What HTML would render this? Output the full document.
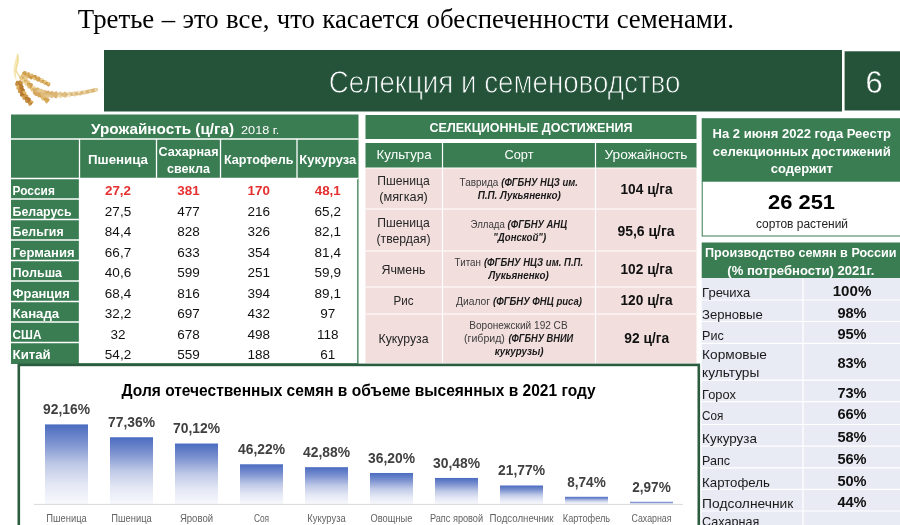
<!DOCTYPE html>
<html lang="ru"><head><meta charset="utf-8"><title>Селекция и семеноводство</title>
<style>
html,body{margin:0;padding:0;background:#fff;}
body{width:900px;height:525px;overflow:hidden;position:relative;font-family:"Liberation Sans", "DejaVu Sans", sans-serif;}
p.lead{position:absolute;left:77.8px;top:4.4px;margin:0;font:26.8px/30px "Liberation Serif", "DejaVu Serif", serif;color:#000;white-space:nowrap;word-spacing:0.68px;}
svg{position:absolute;left:0;top:0;font-family:"Liberation Sans", "DejaVu Sans", sans-serif;}
</style></head><body>
<p class="lead">Третье – это все, что касается обеспеченности семенами.</p>
<svg width="900" height="525" viewBox="0 0 900 525">
<defs>
<linearGradient id="bar" x1="0" y1="0" x2="0" y2="1"><stop offset="0" stop-color="#4a6bc0"/><stop offset="0.25" stop-color="#8095d1"/><stop offset="0.5" stop-color="#bfc9e7"/><stop offset="0.75" stop-color="#e4e8f5"/><stop offset="1" stop-color="#f8f9fd"/></linearGradient>
<filter id="bl" x="-10%" y="-10%" width="120%" height="120%"><feGaussianBlur stdDeviation="0.45"/></filter>
</defs>
<rect x="104" y="50" width="738" height="61.5" fill="#24533a" />
<rect x="844.6" y="51.3" width="56" height="59.2" fill="#24533a" />
<text x="328.8" y="92.6" font-size="30.6" fill="#fff" textLength="351.5" lengthAdjust="spacingAndGlyphs" stroke="#24533a" stroke-width="0.9">Селекция и семеноводство</text>
<text x="865.6" y="92.9" font-size="30.8" fill="#fff" stroke="#24533a" stroke-width="0.35">6</text>
<g filter="url(#bl)">
<path d="M17.2 52.4 C21.2 57 18.4 63.5 17 69 C15.8 74 15.6 78 17.4 82.5 C14.2 78 12.8 72 14 66 C15 60 16.6 57 17.2 52.4Z" fill="#f6e9b8"/>
<path d="M17.3 55 C19 60 16.6 66 15.6 72" stroke="#efd88e" stroke-width="0.9" fill="none"/>
<path d="M16 70 C18 76 21 79 25 82" stroke="#f0dea6" stroke-width="1.5" fill="none"/>
<path d="M24 74.2 Q36 77 48.5 84.3" stroke="#cd9a48" stroke-width="3.47" fill="none" stroke-linecap="round"/>
<ellipse cx="24.38" cy="72.58" rx="2.29" ry="1.33" fill="#d0a051" transform="rotate(-14.9 24.38 72.58)"/>
<ellipse cx="23.62" cy="75.82" rx="2.29" ry="1.33" fill="#dbb369" transform="rotate(41.1 23.62 75.82)"/>
<ellipse cx="27.88" cy="73.56" rx="2.20" ry="1.28" fill="#d5aa5d" transform="rotate(-12.1 27.88 73.56)"/>
<ellipse cx="27.00" cy="76.62" rx="2.20" ry="1.28" fill="#deb870" transform="rotate(43.9 27.00 76.62)"/>
<ellipse cx="31.38" cy="74.72" rx="2.10" ry="1.22" fill="#e0bb75" transform="rotate(-9.4 31.38 74.72)"/>
<ellipse cx="30.41" cy="77.61" rx="2.10" ry="1.22" fill="#cd9948" transform="rotate(46.6 30.41 77.61)"/>
<ellipse cx="34.90" cy="76.07" rx="2.00" ry="1.16" fill="#cc9947" transform="rotate(-6.8 34.90 76.07)"/>
<ellipse cx="33.85" cy="78.78" rx="2.00" ry="1.16" fill="#e7c988" transform="rotate(49.2 33.85 78.78)"/>
<ellipse cx="38.43" cy="77.60" rx="1.90" ry="1.11" fill="#d6aa5d" transform="rotate(-4.4 38.43 77.60)"/>
<ellipse cx="37.32" cy="80.14" rx="1.90" ry="1.11" fill="#d5a85b" transform="rotate(51.6 37.32 80.14)"/>
<ellipse cx="41.97" cy="79.32" rx="1.81" ry="1.05" fill="#edd599" transform="rotate(-2.0 41.97 79.32)"/>
<ellipse cx="40.82" cy="81.68" rx="1.81" ry="1.05" fill="#ddb870" transform="rotate(54.0 40.82 81.68)"/>
<ellipse cx="45.52" cy="81.21" rx="1.71" ry="0.99" fill="#eace90" transform="rotate(0.2 45.52 81.21)"/>
<ellipse cx="44.35" cy="83.40" rx="1.71" ry="0.99" fill="#dfba74" transform="rotate(56.2 44.35 83.40)"/>
<ellipse cx="49.09" cy="83.29" rx="1.61" ry="0.94" fill="#e5c583" transform="rotate(2.3 49.09 83.29)"/>
<ellipse cx="47.91" cy="85.31" rx="1.61" ry="0.94" fill="#d7ab5d" transform="rotate(58.3 47.91 85.31)"/>
<path d="M22 77 Q31 88 47 100.5" stroke="#d1a04d" stroke-width="3.85" fill="none" stroke-linecap="round"/>
<ellipse cx="23.32" cy="75.92" rx="2.36" ry="1.37" fill="#e3c07c" transform="rotate(22.7 23.32 75.92)"/>
<ellipse cx="20.68" cy="78.08" rx="2.36" ry="1.37" fill="#e7c786" transform="rotate(78.7 20.68 78.08)"/>
<ellipse cx="25.62" cy="78.66" rx="2.31" ry="1.34" fill="#e9cb8b" transform="rotate(20.6 25.62 78.66)"/>
<ellipse cx="23.10" cy="80.88" rx="2.31" ry="1.34" fill="#eed398" transform="rotate(76.6 23.10 80.88)"/>
<ellipse cx="28.13" cy="81.47" rx="2.26" ry="1.31" fill="#e7c888" transform="rotate(18.6 28.13 81.47)"/>
<ellipse cx="25.74" cy="83.72" rx="2.26" ry="1.31" fill="#edd397" transform="rotate(74.6 25.74 83.72)"/>
<ellipse cx="30.87" cy="84.32" rx="2.22" ry="1.29" fill="#d0a04d" transform="rotate(16.8 30.87 84.32)"/>
<ellipse cx="28.60" cy="86.60" rx="2.22" ry="1.29" fill="#deb972" transform="rotate(72.8 28.60 86.60)"/>
<ellipse cx="33.83" cy="87.23" rx="2.17" ry="1.26" fill="#efd59c" transform="rotate(15.2 33.83 87.23)"/>
<ellipse cx="31.67" cy="89.52" rx="2.17" ry="1.26" fill="#e5c483" transform="rotate(71.2 31.67 89.52)"/>
<ellipse cx="37.01" cy="90.19" rx="2.12" ry="1.23" fill="#edd499" transform="rotate(13.7 37.01 90.19)"/>
<ellipse cx="34.96" cy="92.49" rx="2.12" ry="1.23" fill="#d5a757" transform="rotate(69.7 34.96 92.49)"/>
<ellipse cx="40.41" cy="93.20" rx="2.08" ry="1.21" fill="#e0bc76" transform="rotate(12.4 40.41 93.20)"/>
<ellipse cx="38.46" cy="95.49" rx="2.08" ry="1.21" fill="#d9af63" transform="rotate(68.4 38.46 95.49)"/>
<ellipse cx="44.04" cy="96.26" rx="2.03" ry="1.18" fill="#e3c17d" transform="rotate(11.1 44.04 96.26)"/>
<ellipse cx="42.18" cy="98.54" rx="2.03" ry="1.18" fill="#e4c380" transform="rotate(67.1 42.18 98.54)"/>
<ellipse cx="47.89" cy="99.37" rx="1.98" ry="1.15" fill="#d4a453" transform="rotate(10.0 47.89 99.37)"/>
<ellipse cx="46.11" cy="101.63" rx="1.98" ry="1.15" fill="#dab064" transform="rotate(66.0 46.11 101.63)"/>
<path d="M36 91.5 Q58 99 96 89.8" stroke="#dcb878" stroke-width="3.85" fill="none" stroke-linecap="round"/>
<ellipse cx="36.71" cy="89.41" rx="3.04" ry="1.76" fill="#dbb26c" transform="rotate(-9.2 36.71 89.41)"/>
<ellipse cx="35.29" cy="93.59" rx="3.04" ry="1.76" fill="#d6a85e" transform="rotate(46.8 35.29 93.59)"/>
<ellipse cx="40.02" cy="90.52" rx="2.90" ry="1.69" fill="#e5c68b" transform="rotate(-13.0 40.02 90.52)"/>
<ellipse cx="38.93" cy="94.59" rx="2.90" ry="1.69" fill="#d5a65c" transform="rotate(43.0 38.93 94.59)"/>
<ellipse cx="43.55" cy="91.44" rx="2.77" ry="1.61" fill="#e4c387" transform="rotate(-16.6 43.55 91.44)"/>
<ellipse cx="42.75" cy="95.38" rx="2.77" ry="1.61" fill="#dfba79" transform="rotate(39.4 42.75 95.38)"/>
<ellipse cx="47.27" cy="92.18" rx="2.64" ry="1.53" fill="#d7ad67" transform="rotate(-19.9 47.27 92.18)"/>
<ellipse cx="46.74" cy="95.97" rx="2.64" ry="1.53" fill="#e3c48a" transform="rotate(36.1 46.74 95.97)"/>
<ellipse cx="51.21" cy="92.72" rx="2.50" ry="1.45" fill="#d8af6b" transform="rotate(-23.0 51.21 92.72)"/>
<ellipse cx="50.89" cy="96.34" rx="2.50" ry="1.45" fill="#e3c389" transform="rotate(33.0 50.89 96.34)"/>
<ellipse cx="55.36" cy="93.08" rx="2.37" ry="1.38" fill="#dab574" transform="rotate(-25.8 55.36 93.08)"/>
<ellipse cx="55.22" cy="96.52" rx="2.37" ry="1.38" fill="#dbb675" transform="rotate(30.2 55.22 96.52)"/>
<ellipse cx="59.70" cy="93.24" rx="2.24" ry="1.30" fill="#e5c993" transform="rotate(-28.4 59.70 93.24)"/>
<ellipse cx="59.73" cy="96.49" rx="2.24" ry="1.30" fill="#eedbaf" transform="rotate(27.6 59.73 96.49)"/>
<ellipse cx="64.26" cy="93.21" rx="2.10" ry="1.22" fill="#debe82" transform="rotate(-30.8 64.26 93.21)"/>
<ellipse cx="64.41" cy="96.26" rx="2.10" ry="1.22" fill="#e1c289" transform="rotate(25.2 64.41 96.26)"/>
<ellipse cx="69.01" cy="92.98" rx="1.97" ry="1.14" fill="#ebd7aa" transform="rotate(-33.0 69.01 92.98)"/>
<ellipse cx="69.26" cy="95.83" rx="1.97" ry="1.14" fill="#f2e4c0" transform="rotate(23.0 69.26 95.83)"/>
<ellipse cx="73.97" cy="92.56" rx="1.84" ry="1.07" fill="#ebd7ac" transform="rotate(-35.0 73.97 92.56)"/>
<ellipse cx="74.29" cy="95.20" rx="1.84" ry="1.07" fill="#e7d0a0" transform="rotate(21.0 74.29 95.20)"/>
<ellipse cx="79.12" cy="91.94" rx="1.70" ry="0.99" fill="#f5e9ca" transform="rotate(-36.9 79.12 91.94)"/>
<ellipse cx="79.50" cy="94.38" rx="1.70" ry="0.99" fill="#e1c58e" transform="rotate(19.1 79.50 94.38)"/>
<ellipse cx="84.48" cy="91.12" rx="1.57" ry="0.91" fill="#f3e6c7" transform="rotate(-38.6 84.48 91.12)"/>
<ellipse cx="84.90" cy="93.36" rx="1.57" ry="0.91" fill="#e7d2a3" transform="rotate(17.4 84.90 93.36)"/>
<ellipse cx="90.03" cy="90.10" rx="1.44" ry="0.83" fill="#e6d0a0" transform="rotate(-40.1 90.03 90.10)"/>
<ellipse cx="90.47" cy="92.14" rx="1.44" ry="0.83" fill="#e6d09f" transform="rotate(15.9 90.47 92.14)"/>
<ellipse cx="95.78" cy="88.88" rx="1.30" ry="0.76" fill="#ebd9af" transform="rotate(-41.6 95.78 88.88)"/>
<ellipse cx="96.22" cy="90.72" rx="1.30" ry="0.76" fill="#f4eacd" transform="rotate(14.4 96.22 90.72)"/>
<path d="M18.8 83 Q21 94 30.5 102.8" stroke="#b5762b" stroke-width="4.29" fill="none" stroke-linecap="round"/>
<ellipse cx="20.74" cy="82.61" rx="2.73" ry="1.58" fill="#c89143" transform="rotate(50.7 20.74 82.61)"/>
<ellipse cx="16.86" cy="83.39" rx="2.73" ry="1.58" fill="#c38b3e" transform="rotate(106.7 16.86 83.39)"/>
<ellipse cx="21.55" cy="86.02" rx="2.62" ry="1.52" fill="#b97c31" transform="rotate(44.2 21.55 86.02)"/>
<ellipse cx="17.92" cy="87.19" rx="2.62" ry="1.52" fill="#dbad5c" transform="rotate(100.2 17.92 87.19)"/>
<ellipse cx="22.75" cy="89.34" rx="2.52" ry="1.46" fill="#b4742a" transform="rotate(37.7 22.75 89.34)"/>
<ellipse cx="19.41" cy="90.84" rx="2.52" ry="1.46" fill="#cb9648" transform="rotate(93.7 19.41 90.84)"/>
<ellipse cx="24.34" cy="92.56" rx="2.42" ry="1.40" fill="#dfb262" transform="rotate(31.4 24.34 92.56)"/>
<ellipse cx="21.31" cy="94.34" rx="2.42" ry="1.40" fill="#b87b30" transform="rotate(87.4 21.31 94.34)"/>
<ellipse cx="26.33" cy="95.69" rx="2.31" ry="1.34" fill="#cf9c4e" transform="rotate(25.5 26.33 95.69)"/>
<ellipse cx="23.63" cy="97.69" rx="2.31" ry="1.34" fill="#d2a052" transform="rotate(81.5 23.63 97.69)"/>
<ellipse cx="28.73" cy="98.73" rx="2.21" ry="1.28" fill="#b87a2f" transform="rotate(19.9 28.73 98.73)"/>
<ellipse cx="26.35" cy="100.88" rx="2.21" ry="1.28" fill="#c89144" transform="rotate(75.9 26.35 100.88)"/>
<ellipse cx="31.54" cy="101.68" rx="2.11" ry="1.22" fill="#d8a95b" transform="rotate(14.8 31.54 101.68)"/>
<ellipse cx="29.46" cy="103.92" rx="2.11" ry="1.22" fill="#cd984a" transform="rotate(70.8 29.46 103.92)"/>
</g>
<rect x="11" y="114.5" width="347.5" height="249.5" fill="#3a7d52" />
<rect x="79.5" y="178.5" width="277.7" height="184.7" fill="#fff" />
<line x1="11" y1="139" x2="358.5" y2="139" stroke="#fff" stroke-width="1.3"/>
<line x1="11" y1="178.5" x2="358.5" y2="178.5" stroke="#fff" stroke-width="1.3"/>
<line x1="79.5" y1="139" x2="79.5" y2="178.5" stroke="#fff" stroke-width="1.3"/>
<line x1="156.5" y1="139" x2="156.5" y2="178.5" stroke="#fff" stroke-width="1.3"/>
<line x1="220.5" y1="139" x2="220.5" y2="178.5" stroke="#fff" stroke-width="1.3"/>
<line x1="297" y1="139" x2="297" y2="178.5" stroke="#fff" stroke-width="1.3"/>
<line x1="79.5" y1="178.5" x2="79.5" y2="363" stroke="#fff" stroke-width="1.3"/>
<line x1="11" y1="199" x2="79.5" y2="199" stroke="#fff" stroke-width="1.3"/>
<line x1="11" y1="219.5" x2="79.5" y2="219.5" stroke="#fff" stroke-width="1.3"/>
<line x1="11" y1="240" x2="79.5" y2="240" stroke="#fff" stroke-width="1.3"/>
<line x1="11" y1="260.5" x2="79.5" y2="260.5" stroke="#fff" stroke-width="1.3"/>
<line x1="11" y1="281" x2="79.5" y2="281" stroke="#fff" stroke-width="1.3"/>
<line x1="11" y1="301.5" x2="79.5" y2="301.5" stroke="#fff" stroke-width="1.3"/>
<line x1="11" y1="322" x2="79.5" y2="322" stroke="#fff" stroke-width="1.3"/>
<line x1="11" y1="342.5" x2="79.5" y2="342.5" stroke="#fff" stroke-width="1.3"/>
<text x="91" y="133.6" font-size="14.4" fill="#fff" font-weight="700" textLength="143" lengthAdjust="spacingAndGlyphs">Урожайность (ц/га)</text>
<text x="241" y="133.6" font-size="11.6" fill="#fff" textLength="38.4" lengthAdjust="spacingAndGlyphs">2018 г.</text>
<text x="118" y="164.4" font-size="13" fill="#fff" font-weight="700" text-anchor="middle" textLength="60" lengthAdjust="spacingAndGlyphs">Пшеница</text>
<text x="188.5" y="155.6" font-size="13" fill="#fff" font-weight="700" text-anchor="middle" textLength="60" lengthAdjust="spacingAndGlyphs">Сахарная</text>
<text x="188.5" y="173.4" font-size="13" fill="#fff" font-weight="700" text-anchor="middle" textLength="43" lengthAdjust="spacingAndGlyphs">свекла</text>
<text x="258.75" y="164.4" font-size="13" fill="#fff" font-weight="700" text-anchor="middle" textLength="69.6" lengthAdjust="spacingAndGlyphs">Картофель</text>
<text x="327.75" y="164.4" font-size="13" fill="#fff" font-weight="700" text-anchor="middle" textLength="57" lengthAdjust="spacingAndGlyphs">Кукуруза</text>
<text x="12.6" y="195" font-size="13.4" fill="#fff" font-weight="700" textLength="42.3" lengthAdjust="spacingAndGlyphs">Россия</text>
<text x="118" y="195" font-size="13.4" fill="#e62f2f" font-weight="700" text-anchor="middle">27,2</text>
<text x="188.5" y="195" font-size="13.4" fill="#e62f2f" font-weight="700" text-anchor="middle">381</text>
<text x="258.75" y="195" font-size="13.4" fill="#e62f2f" font-weight="700" text-anchor="middle">170</text>
<text x="327.75" y="195" font-size="13.4" fill="#e62f2f" font-weight="700" text-anchor="middle">48,1</text>
<text x="12.6" y="215.5" font-size="13.4" fill="#fff" font-weight="700" textLength="59" lengthAdjust="spacingAndGlyphs">Беларусь</text>
<text x="118" y="215.5" font-size="13.5" fill="#111" text-anchor="middle">27,5</text>
<text x="188.5" y="215.5" font-size="13.5" fill="#111" text-anchor="middle">477</text>
<text x="258.75" y="215.5" font-size="13.5" fill="#111" text-anchor="middle">216</text>
<text x="327.75" y="215.5" font-size="13.5" fill="#111" text-anchor="middle">65,2</text>
<text x="12.6" y="236" font-size="13.4" fill="#fff" font-weight="700" textLength="51" lengthAdjust="spacingAndGlyphs">Бельгия</text>
<text x="118" y="236" font-size="13.5" fill="#111" text-anchor="middle">84,4</text>
<text x="188.5" y="236" font-size="13.5" fill="#111" text-anchor="middle">828</text>
<text x="258.75" y="236" font-size="13.5" fill="#111" text-anchor="middle">326</text>
<text x="327.75" y="236" font-size="13.5" fill="#111" text-anchor="middle">82,1</text>
<text x="12.6" y="256.5" font-size="13.4" fill="#fff" font-weight="700" textLength="61.9" lengthAdjust="spacingAndGlyphs">Германия</text>
<text x="118" y="256.5" font-size="13.5" fill="#111" text-anchor="middle">66,7</text>
<text x="188.5" y="256.5" font-size="13.5" fill="#111" text-anchor="middle">633</text>
<text x="258.75" y="256.5" font-size="13.5" fill="#111" text-anchor="middle">354</text>
<text x="327.75" y="256.5" font-size="13.5" fill="#111" text-anchor="middle">81,4</text>
<text x="12.6" y="277" font-size="13.4" fill="#fff" font-weight="700" textLength="49.5" lengthAdjust="spacingAndGlyphs">Польша</text>
<text x="118" y="277" font-size="13.5" fill="#111" text-anchor="middle">40,6</text>
<text x="188.5" y="277" font-size="13.5" fill="#111" text-anchor="middle">599</text>
<text x="258.75" y="277" font-size="13.5" fill="#111" text-anchor="middle">251</text>
<text x="327.75" y="277" font-size="13.5" fill="#111" text-anchor="middle">59,9</text>
<text x="12.6" y="297.5" font-size="13.4" fill="#fff" font-weight="700" textLength="57.1" lengthAdjust="spacingAndGlyphs">Франция</text>
<text x="118" y="297.5" font-size="13.5" fill="#111" text-anchor="middle">68,4</text>
<text x="188.5" y="297.5" font-size="13.5" fill="#111" text-anchor="middle">816</text>
<text x="258.75" y="297.5" font-size="13.5" fill="#111" text-anchor="middle">394</text>
<text x="327.75" y="297.5" font-size="13.5" fill="#111" text-anchor="middle">89,1</text>
<text x="12.6" y="318" font-size="13.4" fill="#fff" font-weight="700" textLength="46.6" lengthAdjust="spacingAndGlyphs">Канада</text>
<text x="118" y="318" font-size="13.5" fill="#111" text-anchor="middle">32,2</text>
<text x="188.5" y="318" font-size="13.5" fill="#111" text-anchor="middle">697</text>
<text x="258.75" y="318" font-size="13.5" fill="#111" text-anchor="middle">432</text>
<text x="327.75" y="318" font-size="13.5" fill="#111" text-anchor="middle">97</text>
<text x="12.6" y="338.5" font-size="13.4" fill="#fff" font-weight="700" textLength="28.9" lengthAdjust="spacingAndGlyphs">США</text>
<text x="118" y="338.5" font-size="13.5" fill="#111" text-anchor="middle">32</text>
<text x="188.5" y="338.5" font-size="13.5" fill="#111" text-anchor="middle">678</text>
<text x="258.75" y="338.5" font-size="13.5" fill="#111" text-anchor="middle">498</text>
<text x="327.75" y="338.5" font-size="13.5" fill="#111" text-anchor="middle">118</text>
<text x="12.6" y="359" font-size="13.4" fill="#fff" font-weight="700" textLength="38.1" lengthAdjust="spacingAndGlyphs">Китай</text>
<text x="118" y="359" font-size="13.5" fill="#111" text-anchor="middle">54,2</text>
<text x="188.5" y="359" font-size="13.5" fill="#111" text-anchor="middle">559</text>
<text x="258.75" y="359" font-size="13.5" fill="#111" text-anchor="middle">188</text>
<text x="327.75" y="359" font-size="13.5" fill="#111" text-anchor="middle">61</text>
<rect x="365.5" y="115" width="331" height="24" fill="#3a7d52" />
<rect x="365.5" y="143" width="331" height="25" fill="#3a7d52" />
<rect x="365.5" y="168" width="331" height="195" fill="#f1dedd" />
<line x1="442.5" y1="143" x2="442.5" y2="363" stroke="#fff" stroke-width="1.2"/>
<line x1="595.5" y1="143" x2="595.5" y2="363" stroke="#fff" stroke-width="1.2"/>
<line x1="365.5" y1="168" x2="696.5" y2="168" stroke="#fff" stroke-width="1.2"/>
<line x1="365.5" y1="209" x2="696.5" y2="209" stroke="#fff" stroke-width="1.2"/>
<line x1="365.5" y1="251" x2="696.5" y2="251" stroke="#fff" stroke-width="1.2"/>
<line x1="365.5" y1="287" x2="696.5" y2="287" stroke="#fff" stroke-width="1.2"/>
<line x1="365.5" y1="314" x2="696.5" y2="314" stroke="#fff" stroke-width="1.2"/>
<text x="531" y="131.8" font-size="12.2" fill="#fff" font-weight="700" text-anchor="middle" textLength="203" lengthAdjust="spacingAndGlyphs">СЕЛЕКЦИОННЫЕ ДОСТИЖЕНИЯ</text>
<text x="404" y="159" font-size="13.4" fill="#fff" text-anchor="middle" textLength="55" lengthAdjust="spacingAndGlyphs">Культура</text>
<text x="519" y="159" font-size="13.4" fill="#fff" text-anchor="middle" textLength="29" lengthAdjust="spacingAndGlyphs">Сорт</text>
<text x="646" y="159" font-size="13.4" fill="#fff" text-anchor="middle" textLength="83" lengthAdjust="spacingAndGlyphs">Урожайность</text>
<text x="403.5" y="185" font-size="13.2" fill="#262626" text-anchor="middle" textLength="52.5" lengthAdjust="spacingAndGlyphs">Пшеница</text>
<text x="403.5" y="201.2" font-size="13.2" fill="#262626" text-anchor="middle" textLength="48.5" lengthAdjust="spacingAndGlyphs">(мягкая)</text>
<text x="403.5" y="227" font-size="13.2" fill="#262626" text-anchor="middle" textLength="52.5" lengthAdjust="spacingAndGlyphs">Пшеница</text>
<text x="403.5" y="243.2" font-size="13.2" fill="#262626" text-anchor="middle" textLength="54" lengthAdjust="spacingAndGlyphs">(твердая)</text>
<text x="403.5" y="274" font-size="13.2" fill="#262626" text-anchor="middle" textLength="44" lengthAdjust="spacingAndGlyphs">Ячмень</text>
<text x="403.5" y="305" font-size="13.2" fill="#262626" text-anchor="middle" textLength="20" lengthAdjust="spacingAndGlyphs">Рис</text>
<text x="403.5" y="343" font-size="13.2" fill="#262626" text-anchor="middle" textLength="50" lengthAdjust="spacingAndGlyphs">Кукуруза</text>
<text x="459.6" y="185.8" font-size="11" fill="#3c3c3c" textLength="38.7" lengthAdjust="spacingAndGlyphs">Таврида</text>
<text x="501.3" y="185.8" font-size="11" fill="#1a1a1a" font-weight="700" font-style="italic" textLength="76.5" lengthAdjust="spacingAndGlyphs">(ФГБНУ НЦЗ им.</text>
<text x="477.7" y="198.8" font-size="11" fill="#1a1a1a" font-weight="700" font-style="italic" textLength="83.2" lengthAdjust="spacingAndGlyphs">П.П. Лукьяненко)</text>
<text x="470.6" y="227.6" font-size="11" fill="#3c3c3c" textLength="34.3" lengthAdjust="spacingAndGlyphs">Эллада</text>
<text x="507.6" y="227.6" font-size="11" fill="#1a1a1a" font-weight="700" font-style="italic" textLength="59.5" lengthAdjust="spacingAndGlyphs">(ФГБНУ АНЦ</text>
<text x="493.3" y="240.6" font-size="11" fill="#1a1a1a" font-weight="700" font-style="italic" textLength="52.8" lengthAdjust="spacingAndGlyphs">&quot;Донской&quot;)</text>
<text x="454.6" y="266" font-size="11" fill="#3c3c3c" textLength="26.3" lengthAdjust="spacingAndGlyphs">Титан</text>
<text x="483.9" y="266" font-size="11" fill="#1a1a1a" font-weight="700" font-style="italic" textLength="99.2" lengthAdjust="spacingAndGlyphs">(ФГБНУ НЦЗ им. П.П.</text>
<text x="488.4" y="278.8" font-size="11" fill="#1a1a1a" font-weight="700" font-style="italic" textLength="60.4" lengthAdjust="spacingAndGlyphs">Лукьяненко)</text>
<text x="456" y="304.6" font-size="11" fill="#3c3c3c" textLength="34.1" lengthAdjust="spacingAndGlyphs">Диалог</text>
<text x="493" y="304.6" font-size="11" fill="#1a1a1a" font-weight="700" font-style="italic" textLength="88.9" lengthAdjust="spacingAndGlyphs">(ФГБНУ ФНЦ риса)</text>
<text x="469.3" y="328.6" font-size="11" fill="#3c3c3c" textLength="98.3" lengthAdjust="spacingAndGlyphs">Воронежский 192 СВ</text>
<text x="464" y="342" font-size="11" fill="#3c3c3c" textLength="40.9" lengthAdjust="spacingAndGlyphs">(гибрид)</text>
<text x="508.4" y="342" font-size="11" fill="#1a1a1a" font-weight="700" font-style="italic" textLength="64.9" lengthAdjust="spacingAndGlyphs">(ФГБНУ ВНИИ</text>
<text x="494.8" y="354.8" font-size="11" fill="#1a1a1a" font-weight="700" font-style="italic" textLength="48.8" lengthAdjust="spacingAndGlyphs">кукурузы)</text>
<text x="620.5" y="193.6" font-size="14" fill="#111" font-weight="700" textLength="52.2" lengthAdjust="spacingAndGlyphs">104 ц/га</text>
<text x="617.4" y="235.5" font-size="14" fill="#111" font-weight="700" textLength="57.2" lengthAdjust="spacingAndGlyphs">95,6 ц/га</text>
<text x="620.5" y="273.6" font-size="14" fill="#111" font-weight="700" textLength="52.2" lengthAdjust="spacingAndGlyphs">102 ц/га</text>
<text x="620.5" y="304.8" font-size="14" fill="#111" font-weight="700" textLength="52.2" lengthAdjust="spacingAndGlyphs">120 ц/га</text>
<text x="624.3" y="343.3" font-size="14" fill="#111" font-weight="700" textLength="44.9" lengthAdjust="spacingAndGlyphs">92 ц/га</text>
<rect x="701.7" y="118.2" width="198.3" height="63" fill="#3a7d52" />
<rect x="702.2" y="181.2" width="198.3" height="54.8" fill="#fff" stroke="#3a7d52" stroke-width="1"/>
<text x="801.8" y="137.5" font-size="13" fill="#fff" font-weight="700" text-anchor="middle" textLength="178.5" lengthAdjust="spacingAndGlyphs">На 2 июня 2022 года Реестр</text>
<text x="801.8" y="155.5" font-size="13" fill="#fff" font-weight="700" text-anchor="middle" textLength="178" lengthAdjust="spacingAndGlyphs">селекционных достижений</text>
<text x="801.8" y="173.2" font-size="13" fill="#fff" font-weight="700" text-anchor="middle" textLength="62" lengthAdjust="spacingAndGlyphs">содержит</text>
<text x="801.5" y="208.7" font-size="20.5" fill="#000" font-weight="700" text-anchor="middle" textLength="67" lengthAdjust="spacingAndGlyphs">26 251</text>
<text x="802" y="228.3" font-size="12" fill="#222" text-anchor="middle" textLength="92" lengthAdjust="spacingAndGlyphs">сортов растений</text>
<rect x="701.7" y="242.5" width="198.3" height="35.5" fill="#3a7d52" />
<text x="800.8" y="257" font-size="13.6" fill="#fff" font-weight="700" text-anchor="middle" textLength="191.5" lengthAdjust="spacingAndGlyphs">Производство семян в России</text>
<text x="800.8" y="274.5" font-size="13.6" fill="#fff" font-weight="700" text-anchor="middle" textLength="147" lengthAdjust="spacingAndGlyphs">(% потребности) 2021г.</text>
<rect x="701.7" y="278" width="198.3" height="250" fill="#e9ebf4" />
<line x1="701.7" y1="300" x2="900" y2="300" stroke="#fff" stroke-width="1.2"/>
<line x1="701.7" y1="321.5" x2="900" y2="321.5" stroke="#fff" stroke-width="1.2"/>
<line x1="701.7" y1="343.3" x2="900" y2="343.3" stroke="#fff" stroke-width="1.2"/>
<line x1="701.7" y1="380.2" x2="900" y2="380.2" stroke="#fff" stroke-width="1.2"/>
<line x1="701.7" y1="401.7" x2="900" y2="401.7" stroke="#fff" stroke-width="1.2"/>
<line x1="701.7" y1="424.5" x2="900" y2="424.5" stroke="#fff" stroke-width="1.2"/>
<line x1="701.7" y1="446.2" x2="900" y2="446.2" stroke="#fff" stroke-width="1.2"/>
<line x1="701.7" y1="467.9" x2="900" y2="467.9" stroke="#fff" stroke-width="1.2"/>
<line x1="701.7" y1="489.3" x2="900" y2="489.3" stroke="#fff" stroke-width="1.2"/>
<line x1="701.7" y1="511" x2="900" y2="511" stroke="#fff" stroke-width="1.2"/>
<line x1="803" y1="278" x2="803" y2="525" stroke="#fff" stroke-width="1.2"/>
<text x="702.1" y="296.7" font-size="13.4" fill="#1a1a1a" textLength="48.1" lengthAdjust="spacingAndGlyphs">Гречиха</text>
<text x="852" y="295.6" font-size="14.4" fill="#111" font-weight="700" text-anchor="middle" textLength="38.7" lengthAdjust="spacingAndGlyphs">100%</text>
<text x="702.1" y="318.7" font-size="13.4" fill="#1a1a1a" textLength="60.7" lengthAdjust="spacingAndGlyphs">Зерновые</text>
<text x="852" y="317.6" font-size="14.4" fill="#111" font-weight="700" text-anchor="middle" textLength="29.2" lengthAdjust="spacingAndGlyphs">98%</text>
<text x="702.1" y="340.2" font-size="13.4" fill="#1a1a1a" textLength="21.7" lengthAdjust="spacingAndGlyphs">Рис</text>
<text x="852" y="339.1" font-size="14.4" fill="#111" font-weight="700" text-anchor="middle" textLength="29.2" lengthAdjust="spacingAndGlyphs">95%</text>
<text x="702.1" y="358.5" font-size="13.4" fill="#1a1a1a" textLength="64.9" lengthAdjust="spacingAndGlyphs">Кормовые</text>
<text x="702.1" y="376.5" font-size="13.4" fill="#1a1a1a" textLength="57.2" lengthAdjust="spacingAndGlyphs">культуры</text>
<text x="852" y="367.75" font-size="14.4" fill="#111" font-weight="700" text-anchor="middle" textLength="29.2" lengthAdjust="spacingAndGlyphs">83%</text>
<text x="702.1" y="398.9" font-size="13.4" fill="#1a1a1a" textLength="33.8" lengthAdjust="spacingAndGlyphs">Горох</text>
<text x="852" y="397.8" font-size="14.4" fill="#111" font-weight="700" text-anchor="middle" textLength="29.2" lengthAdjust="spacingAndGlyphs">73%</text>
<text x="702.1" y="420.4" font-size="13.4" fill="#1a1a1a" textLength="21.2" lengthAdjust="spacingAndGlyphs">Соя</text>
<text x="852" y="419.3" font-size="14.4" fill="#111" font-weight="700" text-anchor="middle" textLength="29.2" lengthAdjust="spacingAndGlyphs">66%</text>
<text x="702.1" y="443.2" font-size="13.4" fill="#1a1a1a" textLength="54.8" lengthAdjust="spacingAndGlyphs">Кукуруза</text>
<text x="852" y="442.1" font-size="14.4" fill="#111" font-weight="700" text-anchor="middle" textLength="29.2" lengthAdjust="spacingAndGlyphs">58%</text>
<text x="702.1" y="464.9" font-size="13.4" fill="#1a1a1a" textLength="28" lengthAdjust="spacingAndGlyphs">Рапс</text>
<text x="852" y="463.8" font-size="14.4" fill="#111" font-weight="700" text-anchor="middle" textLength="29.2" lengthAdjust="spacingAndGlyphs">56%</text>
<text x="702.1" y="486.6" font-size="13.4" fill="#1a1a1a" textLength="67.7" lengthAdjust="spacingAndGlyphs">Картофель</text>
<text x="852" y="485.5" font-size="14.4" fill="#111" font-weight="700" text-anchor="middle" textLength="29.2" lengthAdjust="spacingAndGlyphs">50%</text>
<text x="702.1" y="508" font-size="13.4" fill="#1a1a1a" textLength="91.2" lengthAdjust="spacingAndGlyphs">Подсолнечник</text>
<text x="852" y="506.9" font-size="14.4" fill="#111" font-weight="700" text-anchor="middle" textLength="29.2" lengthAdjust="spacingAndGlyphs">44%</text>
<text x="702.1" y="526.2" font-size="13.4" fill="#1a1a1a" textLength="57.2" lengthAdjust="spacingAndGlyphs">Сахарная</text>
<text x="702.1" y="544.2" font-size="13.4" fill="#1a1a1a" textLength="42" lengthAdjust="spacingAndGlyphs">свекла</text>
<text x="852" y="535.5" font-size="14.4" fill="#111" font-weight="700" text-anchor="middle" textLength="29.2" lengthAdjust="spacingAndGlyphs">33%</text>
<rect x="18.8" y="364.9" width="680" height="170" fill="#fff" stroke="#2b5c3f" stroke-width="2.6"/>
<text x="121.6" y="396.4" font-size="16" fill="#000" font-weight="700" textLength="474" lengthAdjust="spacingAndGlyphs">Доля отечественных семян в объеме высеянных в 2021 году</text>
<rect x="45" y="424.405" width="43" height="79.9949" fill="url(#bar)" />
<text x="66.5" y="414.105" font-size="14" fill="#404040" font-weight="700" text-anchor="middle" textLength="47" lengthAdjust="spacingAndGlyphs">92,16%</text>
<text x="66.5" y="522" font-size="10.6" fill="#636363" text-anchor="middle" textLength="40.4" lengthAdjust="spacingAndGlyphs">Пшеница</text>
<rect x="110" y="437.252" width="43" height="67.1485" fill="url(#bar)" />
<text x="131.5" y="426.952" font-size="14" fill="#404040" font-weight="700" text-anchor="middle" textLength="47" lengthAdjust="spacingAndGlyphs">77,36%</text>
<text x="131.5" y="522" font-size="10.6" fill="#636363" text-anchor="middle" textLength="40.4" lengthAdjust="spacingAndGlyphs">Пшеница</text>
<rect x="175" y="443.536" width="43" height="60.8642" fill="url(#bar)" />
<text x="196.5" y="433.236" font-size="14" fill="#404040" font-weight="700" text-anchor="middle" textLength="47" lengthAdjust="spacingAndGlyphs">70,12%</text>
<text x="196.5" y="522" font-size="10.6" fill="#636363" text-anchor="middle" textLength="33.2" lengthAdjust="spacingAndGlyphs">Яровой</text>
<rect x="240" y="464.281" width="43" height="40.119" fill="url(#bar)" />
<text x="261.5" y="453.981" font-size="14" fill="#404040" font-weight="700" text-anchor="middle" textLength="47" lengthAdjust="spacingAndGlyphs">46,22%</text>
<text x="261.5" y="522" font-size="10.6" fill="#636363" text-anchor="middle" textLength="15.2" lengthAdjust="spacingAndGlyphs">Соя</text>
<rect x="305" y="467.18" width="43" height="37.2198" fill="url(#bar)" />
<text x="326.5" y="456.88" font-size="14" fill="#404040" font-weight="700" text-anchor="middle" textLength="47" lengthAdjust="spacingAndGlyphs">42,88%</text>
<text x="326.5" y="522" font-size="10.6" fill="#636363" text-anchor="middle" textLength="38.4" lengthAdjust="spacingAndGlyphs">Кукуруза</text>
<rect x="370" y="472.978" width="43" height="31.4216" fill="url(#bar)" />
<text x="391.5" y="462.678" font-size="14" fill="#404040" font-weight="700" text-anchor="middle" textLength="47" lengthAdjust="spacingAndGlyphs">36,20%</text>
<text x="391.5" y="522" font-size="10.6" fill="#636363" text-anchor="middle" textLength="42" lengthAdjust="spacingAndGlyphs">Овощные</text>
<rect x="435" y="477.943" width="43" height="26.4566" fill="url(#bar)" />
<text x="456.5" y="467.643" font-size="14" fill="#404040" font-weight="700" text-anchor="middle" textLength="47" lengthAdjust="spacingAndGlyphs">30,48%</text>
<text x="456.5" y="522" font-size="10.6" fill="#636363" text-anchor="middle" textLength="53.2" lengthAdjust="spacingAndGlyphs">Рапс яровой</text>
<rect x="500" y="485.504" width="43" height="18.8964" fill="url(#bar)" />
<text x="521.5" y="475.204" font-size="14" fill="#404040" font-weight="700" text-anchor="middle" textLength="47" lengthAdjust="spacingAndGlyphs">21,77%</text>
<text x="521.5" y="522" font-size="10.6" fill="#636363" text-anchor="middle" textLength="64" lengthAdjust="spacingAndGlyphs">Подсолнечник</text>
<rect x="565" y="496.814" width="43" height="7.58632" fill="url(#bar)" />
<text x="586.5" y="486.514" font-size="14" fill="#404040" font-weight="700" text-anchor="middle" textLength="38.5" lengthAdjust="spacingAndGlyphs">8,74%</text>
<text x="586.5" y="522" font-size="10.6" fill="#636363" text-anchor="middle" textLength="47.4" lengthAdjust="spacingAndGlyphs">Картофель</text>
<rect x="630" y="501.822" width="43" height="2.57796" fill="url(#bar)" />
<text x="651.5" y="491.522" font-size="14" fill="#404040" font-weight="700" text-anchor="middle" textLength="38.5" lengthAdjust="spacingAndGlyphs">2,97%</text>
<text x="651.5" y="522" font-size="10.6" fill="#636363" text-anchor="middle" textLength="40" lengthAdjust="spacingAndGlyphs">Сахарная</text>
<line x1="34" y1="504.4" x2="683" y2="504.4" stroke="#d9d9d9" stroke-width="1"/>
</svg>
</body></html>
